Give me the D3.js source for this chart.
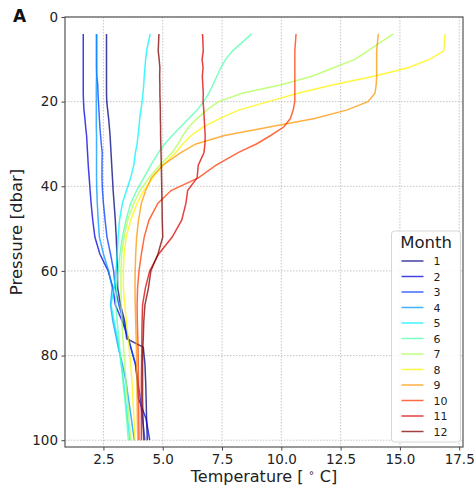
<!DOCTYPE html>
<html><head><meta charset="utf-8">
<script src="https://cdn.jsdelivr.net/npm/d3@7"></script>
<style>
html,body{margin:0;padding:0;background:#fff;}
svg{display:block;font-family:"DejaVu Sans",sans-serif;}
</style></head>
<body><svg id="chart" width="475" height="486"></svg>
<script>
// ---- data ----
const months = [1,2,3,4,5,6,7,8,9,10,11,12];
const pressure = [4,8,10,12,14,16,18,20,22,24,26,28,30,32,35,38,41,44,48,52,56,60,64,68,72,76,78,82,86,90,95,100];
const t01 = [2.63,2.63,2.63,2.63,2.63,2.63,2.63,2.64,2.68,2.72,2.75,2.78,2.80,2.82,2.85,2.88,2.91,2.95,3.00,3.04,3.07,3.09,3.10,3.22,3.40,3.48,4.18,4.25,4.28,4.30,4.32,4.35];
const t02 = [1.65,1.65,1.65,1.65,1.65,1.65,1.65,1.66,1.68,1.72,1.75,1.79,1.81,1.83,1.86,1.90,1.94,1.98,2.05,2.14,2.35,2.70,2.90,3.00,3.30,3.55,3.65,3.85,3.93,3.97,4.30,4.45];
const t03 = [2.21,2.21,2.21,2.21,2.22,2.26,2.27,2.29,2.31,2.33,2.35,2.38,2.41,2.45,2.44,2.44,2.46,2.50,2.57,2.65,2.80,2.93,3.00,3.15,3.35,3.55,3.65,3.85,3.95,4.05,4.15,4.25];
const t04 = [2.21,2.21,2.21,2.21,2.21,2.20,2.20,2.20,2.20,2.20,2.20,2.21,2.21,2.21,2.21,2.21,2.22,2.24,2.28,2.33,2.50,2.72,2.87,2.80,2.90,3.05,3.12,3.30,3.45,3.55,3.68,3.80];
const t05 = [4.47,4.32,4.28,4.25,4.22,4.20,4.17,4.13,4.08,4.03,4.00,3.96,3.92,3.85,3.78,3.65,3.47,3.30,3.18,3.12,3.08,3.03,2.95,2.82,2.95,3.10,3.15,3.25,3.35,3.42,3.52,3.62];
const t06 = [8.75,7.95,7.65,7.45,7.28,7.12,6.95,6.72,6.45,6.10,5.75,5.40,5.08,4.82,4.50,4.20,3.90,3.65,3.45,3.30,3.20,3.12,3.05,3.02,3.08,3.15,3.18,3.25,3.32,3.40,3.48,3.55];
const t07 = [14.72,13.65,13.10,12.20,11.30,10.00,8.35,7.35,6.85,6.45,6.10,5.85,5.65,5.40,4.88,4.42,4.05,3.78,3.52,3.37,3.27,3.24,3.24,3.25,3.28,3.32,3.35,3.40,3.45,3.50,3.58,3.65];
const t08 = [16.90,16.85,16.25,15.35,13.90,12.20,10.70,9.45,8.20,7.40,6.70,6.20,5.85,5.55,5.02,4.58,4.20,3.92,3.65,3.46,3.37,3.34,3.34,3.40,3.47,3.55,3.58,3.65,3.70,3.74,3.79,3.83];
const t09 = [14.09,14.02,14.02,14.02,14.02,14.00,13.95,13.65,12.75,11.40,9.50,7.60,6.40,5.78,5.00,4.52,4.28,4.10,3.98,3.90,3.86,3.84,3.83,3.84,3.86,3.88,3.89,3.90,3.91,3.92,3.93,3.95];
const t10 = [10.62,10.57,10.57,10.57,10.57,10.57,10.57,10.57,10.50,10.38,10.10,9.55,8.95,8.20,7.25,6.50,5.35,4.80,4.42,4.22,4.10,4.00,3.94,3.92,3.93,3.95,3.96,3.97,3.98,3.98,3.99,4.00];
const t11 = [6.68,6.71,6.66,6.70,6.67,6.69,6.71,6.70,6.73,6.75,6.77,6.79,6.78,6.74,6.50,6.45,6.05,5.98,5.80,5.40,4.83,4.45,4.27,4.15,4.13,4.12,4.12,4.11,4.10,4.10,4.10,4.10];
const t12 = [4.84,4.81,4.85,4.88,4.87,4.88,4.88,4.89,4.90,4.90,4.91,4.91,4.92,4.93,4.94,4.95,4.96,4.97,4.98,5.00,4.80,4.50,4.40,4.25,4.20,4.18,4.16,4.15,4.15,4.15,4.17,4.20];
const xTicks = [2.5,5.0,7.5,10.0,12.5,15.0,17.5];
const yTicks = [0,20,40,60,80,100];

const profiles = [t01,t02,t03,t04,t05,t06,t07,t08,t09,t10,t11,t12];

// ---- jet colormap ----
function jet(v){
  const c = t => Math.max(0, Math.min(1, t));
  const r = c(1.5 - Math.abs(4*v - 3));
  const g = c(1.5 - Math.abs(4*v - 2));
  const b = c(1.5 - Math.abs(4*v - 1));
  return d3.rgb(Math.round(r*255), Math.round(g*255), Math.round(b*255)).formatHex();
}
const color = m => jet((m-1)/11);

const svg = d3.select("#chart");
const L = 65, R = 463, T = 17, B = 447;
const x = d3.scaleLinear().domain([0.88, 17.66]).range([L, R]);
const y = d3.scaleLinear().domain([0, 101.6]).range([T, B]);

// grid
const grid = svg.append("g").attr("stroke", "#b8b8b8").attr("stroke-width", 0.8).attr("stroke-dasharray", "1.5,1.5");
grid.selectAll("line.gx").data(xTicks).join("line")
  .attr("x1", d => x(d)).attr("x2", d => x(d)).attr("y1", T).attr("y2", B);
grid.selectAll("line.gy").data(yTicks).join("line")
  .attr("y1", d => y(d)).attr("y2", d => y(d)).attr("x1", L).attr("x2", R);

// lines
const line = d3.line().x(d => x(d[1])).y(d => y(d[0]));
svg.append("g").selectAll("path").data(months).join("path")
  .attr("d", m => line(pressure.map((p,i) => [p, profiles[m-1][i]])))
  .attr("fill", "none")
  .attr("stroke", m => color(m))
  .attr("stroke-opacity", 0.75)
  .attr("stroke-width", 1.5);

// axes
const xAxis = d3.axisBottom(x).tickValues(xTicks).tickFormat(d3.format(".1f")).tickSize(3.5).tickPadding(3.5);
const yAxis = d3.axisLeft(y).tickValues(yTicks).tickFormat(d3.format("d")).tickSize(3.5).tickPadding(3.5);
const gx = svg.append("g").attr("transform", `translate(0,${B})`).call(xAxis);
const gy = svg.append("g").attr("transform", `translate(${L},0)`).call(yAxis);
[gx, gy].forEach(g => {
  g.select(".domain").remove();
  g.selectAll("text").attr("font-size", 13.5).attr("fill", "#222").attr("font-family", "DejaVu Sans");
  g.selectAll("line").attr("stroke", "#444");
});

// frame
svg.append("rect").attr("x", L).attr("y", T).attr("width", R-L).attr("height", B-T)
  .attr("fill", "none").attr("stroke", "#555").attr("stroke-width", 1.2);

// axis labels
const xl = svg.append("text").attr("x", (L+R)/2).attr("y", 482).attr("text-anchor", "middle")
  .attr("font-size", 16).attr("fill", "#222");
xl.append("tspan").text("Temperature [ ");
xl.append("tspan").attr("font-size", 10).attr("dy", -6).text("\u2218");
xl.append("tspan").attr("dy", 6).text(" C]");

svg.append("text").attr("transform", `translate(22,${(T+B)/2}) rotate(-90)`)
  .attr("text-anchor", "middle").attr("font-size", 16.5).attr("fill", "#222").text("Pressure [dbar]");

// panel letter
svg.append("text").attr("x", 13).attr("y", 22).attr("font-size", 17).attr("font-weight", "bold")
  .attr("fill", "#111").text("A");

// legend
const lg = svg.append("g");
lg.append("rect").attr("x", 391.5).attr("y", 231).attr("width", 69).attr("height", 211).attr("rx", 3)
  .attr("fill", "#fff").attr("fill-opacity", 0.85).attr("stroke", "#d6d6d6").attr("stroke-width", 1);
lg.append("text").attr("x", 426).attr("y", 248).attr("text-anchor", "middle").attr("font-size", 16.5)
  .attr("fill", "#222").text("Month");
const ly = d3.scalePoint().domain(months).range([261, 431.5]);
const items = lg.selectAll("g.item").data(months).join("g").attr("class", "item")
  .attr("transform", m => `translate(0,${ly(m)})`);
items.append("line").attr("x1", 401.5).attr("x2", 423.5).attr("y1", 0).attr("y2", 0)
  .attr("stroke", m => color(m)).attr("stroke-opacity", 0.75).attr("stroke-width", 1.5);
items.append("text").attr("x", 433.5).attr("y", 4).attr("font-size", 11).attr("fill", "#222").text(m => m);
</script>
</body></html>
